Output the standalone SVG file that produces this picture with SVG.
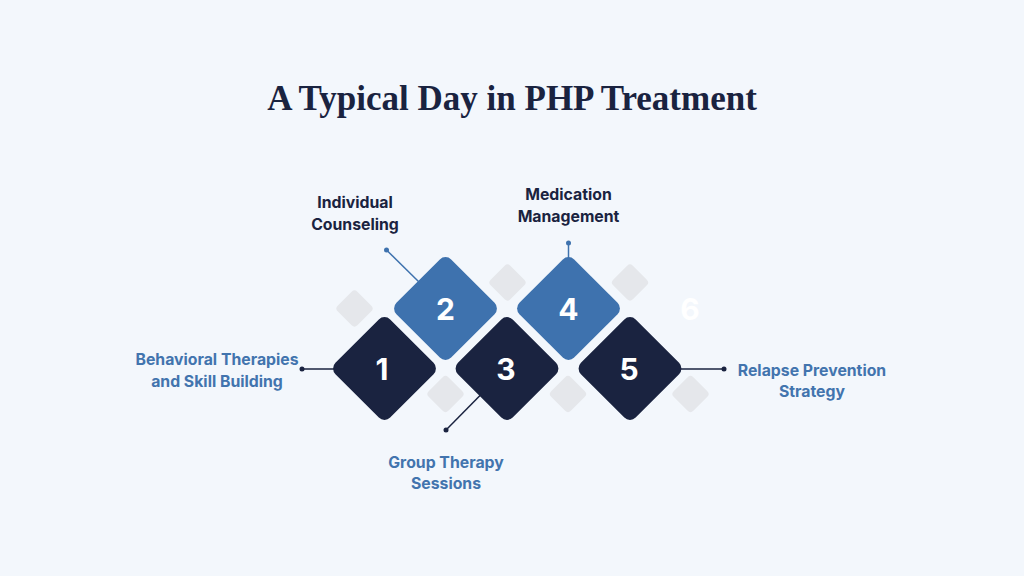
<svg xmlns="http://www.w3.org/2000/svg" width="1024" height="576" viewBox="0 0 1024 576">
<style>
.bg{fill:#f3f7fc}
.title{font-family:"Liberation Serif",serif;font-weight:bold;font-size:35px;fill:#1a2340;text-anchor:middle}
.dk{fill:#1a2340}
.bl{fill:#3e72ae}
.gr{fill:#e5e7eb}
.num{font-family:Inter,"Liberation Sans",sans-serif;font-weight:bold;font-size:30px;fill:#ffffff;text-anchor:middle}
.lblD{font-family:Inter,"Liberation Sans",sans-serif;font-weight:bold;font-size:15.8px;fill:#1a2340;text-anchor:middle}
.lblB{font-family:Inter,"Liberation Sans",sans-serif;font-weight:bold;font-size:15.8px;fill:#4274ae;text-anchor:middle}
.lnD{stroke:#1a2340;stroke-width:1.5;fill:none}
.lnB{stroke:#3e72ae;stroke-width:1.5;fill:none}
</style>
<defs>
<rect id="big" x="-38.7" y="-38.7" width="77.4" height="77.4" rx="8" transform="rotate(45)"/>
<rect id="small" x="-13.9" y="-13.9" width="27.8" height="27.8" rx="4" transform="rotate(45)"/>
</defs>
<rect class="bg" width="1024" height="576"/>
<text class="title" x="512" y="110">A Typical Day in PHP Treatment</text>
<g id="decor">
<use href="#small" class="gr" x="354.5" y="308.5"/>
<use href="#small" class="gr" x="507.5" y="282.5"/>
<use href="#small" class="gr" x="630" y="282.5"/>
<use href="#small" class="gr" x="445.5" y="394"/>
<use href="#small" class="gr" x="568" y="394"/>
<use href="#small" class="gr" x="690.5" y="394"/>
<text class="num" x="690" y="320" font-size="28">6</text>
</g>
<g id="connectors">
<line class="lnD" x1="302" y1="369" x2="334" y2="369"/>
<circle class="dk" cx="302" cy="369" r="2.5"/>
<line class="lnB" x1="386.5" y1="250" x2="420" y2="283"/>
<circle class="bl" cx="386.5" cy="250" r="2.5"/>
<line class="lnD" x1="446" y1="430" x2="481" y2="394.5"/>
<circle class="dk" cx="446" cy="430" r="2.5"/>
<line class="lnB" x1="568.5" y1="243" x2="568.5" y2="258"/>
<circle class="bl" cx="568.5" cy="243" r="2.5"/>
<line class="lnD" x1="681" y1="369" x2="724" y2="369"/>
<circle class="dk" cx="724" cy="369" r="2.5"/>
</g>
<g id="node1">
<use href="#big" class="dk" x="384.5" y="368.5"/>
<text class="num" x="382" y="379.5">1</text>
<text class="lblB" x="217" y="365">Behavioral Therapies</text>
<text class="lblB" x="217" y="386.5">and Skill Building</text>
</g>
<g id="node2">
<use href="#big" class="bl" x="445.5" y="308.5"/>
<text class="num" x="445.5" y="319.5">2</text>
<text class="lblD" x="355" y="208">Individual</text>
<text class="lblD" x="355" y="229.5">Counseling</text>
</g>
<g id="node3">
<use href="#big" class="dk" x="507" y="368.5"/>
<text class="num" x="506" y="379.5">3</text>
<text class="lblB" x="446" y="467.5">Group Therapy</text>
<text class="lblB" x="446" y="489">Sessions</text>
</g>
<g id="node4">
<use href="#big" class="bl" x="568.5" y="308.5"/>
<text class="num" x="568.5" y="319.5">4</text>
<text class="lblD" x="568.5" y="200">Medication</text>
<text class="lblD" x="568.5" y="221.5">Management</text>
</g>
<g id="node5">
<use href="#big" class="dk" x="630" y="368.5"/>
<text class="num" x="629" y="379.5">5</text>
<text class="lblB" x="812" y="375.5">Relapse Prevention</text>
<text class="lblB" x="812" y="397">Strategy</text>
</g>
</svg>
